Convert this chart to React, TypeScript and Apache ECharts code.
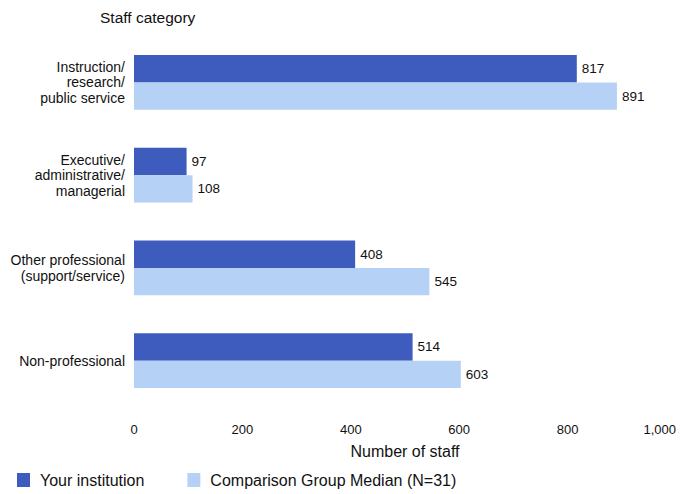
import React, { useEffect, useRef } from "react";
import * as echarts from "echarts";

const categories = [
  "Instruction/\nresearch/\npublic service",
  "Executive/\nadministrative/\nmanagerial",
  "Other professional\n(support/service)",
  "Non-professional",
];
const yourInstitution = [817, 97, 408, 514];
const comparisonMedian = [891, 108, 545, 603];
const seriesNames = ["Your institution", "Comparison Group Median (N=31)"];
const yAxisTitle = "Staff category";
const xAxisTitle = "Number of staff";

const FONT = "'Liberation Sans', Arial, sans-serif";

export default function App() {
  const ref = useRef<HTMLDivElement>(null);
  useEffect(() => {
    if (!ref.current) return;
    const chart = echarts.init(ref.current, null, { renderer: "svg" });
    chart.setOption({
      animation: false,
      backgroundColor: "#ffffff",
      textStyle: { fontFamily: FONT, color: "#111" },
      grid: { left: 134, right: 18, top: 36, bottom: 87, containLabel: false },
      graphic: [
        {
          type: "text",
          left: 100,
          top: 9,
          style: { text: yAxisTitle, fontSize: 15.5, fill: "#111", fontFamily: FONT },
        },
      ],
      legend: {
        left: 12,
        bottom: 1,
        itemWidth: 13,
        itemHeight: 14,
        itemGap: 43,
        icon: "rect",
        textStyle: { fontSize: 16, color: "#111", fontFamily: FONT, padding: [0, 0, 0, 5] },
        data: seriesNames,
      },
      xAxis: {
        type: "value",
        min: 0,
        max: 1000,
        interval: 200,
        name: xAxisTitle,
        nameLocation: "middle",
        nameGap: 36,
        nameTextStyle: { fontSize: 16, color: "#111" },
        axisLine: { show: false },
        axisTick: { show: false },
        splitLine: { show: false },
        axisLabel: {
          fontSize: 13,
          color: "#111",
          margin: 16,
          alignMaxLabel: "right",
          formatter: (v: number) => v.toLocaleString("en-US"),
        },
      },
      yAxis: {
        type: "category",
        inverse: true,
        data: categories,
        axisLine: { show: false },
        axisTick: { show: false },
        axisLabel: { fontSize: 14, color: "#111", margin: 9, lineHeight: 15.5, align: "right" },
      },
      series: [
        {
          name: seriesNames[0],
          type: "bar",
          data: yourInstitution,
          barGap: "0%",
          barCategoryGap: "41%",
          itemStyle: { color: "#3D5CBE" },
          label: { show: true, position: "right", distance: 5, fontSize: 13.5, color: "#111" },
        },
        {
          name: seriesNames[1],
          type: "bar",
          data: comparisonMedian,
          itemStyle: { color: "#B6D1F6" },
          label: { show: true, position: "right", distance: 5, fontSize: 13.5, color: "#111" },
        },
      ],
    });
    return () => chart.dispose();
  }, []);
  return (
    <div
      ref={ref}
      style={{ position: "fixed", left: 0, top: 0, width: 694, height: 494, background: "#fff" }}
    />
  );
}
